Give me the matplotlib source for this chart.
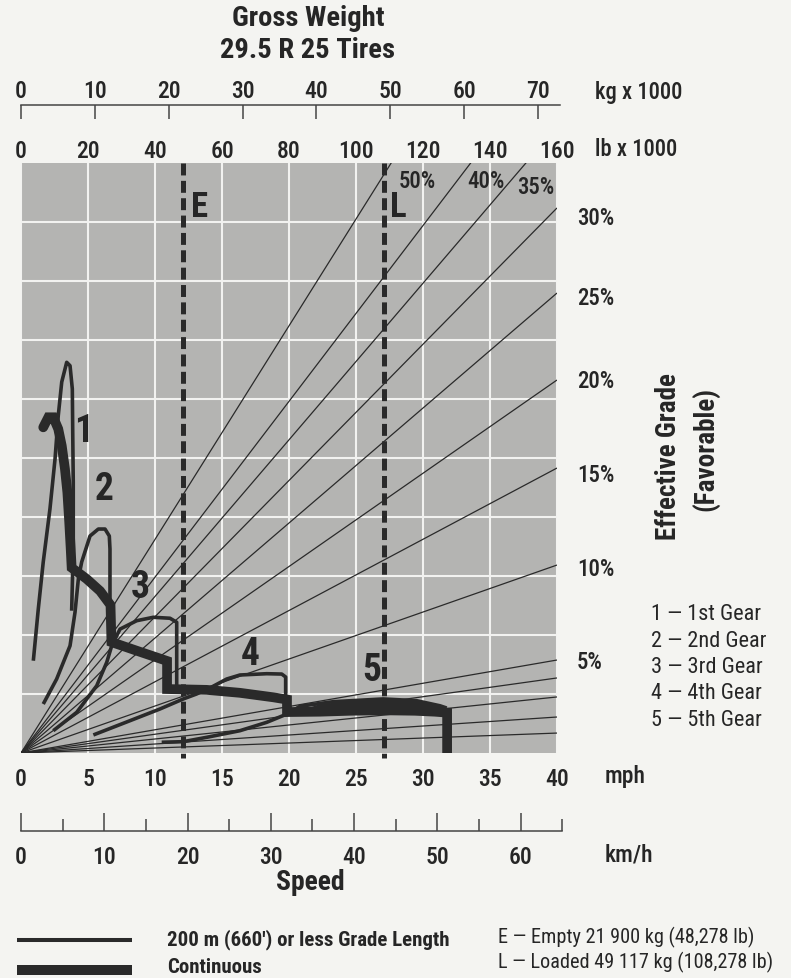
import matplotlib
matplotlib.use("Agg")
import matplotlib.pyplot as plt
from matplotlib import font_manager as fm
from matplotlib.lines import Line2D
import numpy as np

W, H = 791, 979

# ---------------- data ----------------
mph_ticks = [0, 5, 10, 15, 20, 25, 30, 35, 40]
kmh_major = [0, 10, 20, 30, 40, 50, 60]
kmh_minor = [5, 15, 25, 35, 45, 55, 65]
kg_ticks = [0, 10, 20, 30, 40, 50, 60, 70]
lb_ticks = [0, 20, 40, 60, 80, 100, 120, 140, 160]
force_grid = [5, 10, 15, 20, 25, 30, 35, 40, 45]

grade_names = ["1%", "2%", "3%", "4%", "5%", "10%", "15%", "20%", "25%", "30%", "35%", "40%", "50%"]
# force reached by each effective-grade line at 160 000 lb gross weight (chart units)
grade_force_160 = [1.69, 3.05, 4.75, 6.36, 7.88, 15.93, 24.15, 31.61, 38.98, 46.19, 53.08, 59.6, 72.4]

empty_lb = 48.278     # x 1000 lb
loaded_lb = 108.278   # x 1000 lb

# thin curves: 200 m (660') or less grade length  (speed mph, force)
g1_thin_mph = [0.92, 1.29, 1.66, 2.16, 2.54, 2.78, 3.04, 3.41, 3.66, 3.83, 3.86, 3.90, 3.90, 3.78]
g1_thin_f = [7.82, 12.2, 16.19, 20.68, 24.92, 28.58, 31.44, 33.11, 32.82, 30.85, 27.2, 22.97, 17.29, 12.06]
g2_thin_mph = [1.66, 2.66, 3.66, 4.03, 4.28, 4.53, 5.15, 5.77, 6.27, 6.59, 6.64, 6.64]
g2_thin_f = [4.15, 6.27, 9.09, 11.92, 14.75, 16.19, 18.39, 18.98, 18.98, 18.39, 17.29, 13.05]
g3_thin_mph = [2.41, 4.16, 5.65, 6.40, 6.77, 7.39, 8.63, 9.87, 11.12, 11.62, 11.62]
g3_thin_f = [1.89, 3.45, 5.70, 7.69, 9.09, 10.5, 11.21, 11.5, 11.42, 11.08, 5.0]
g4_thin_mph = [5.40, 7.89, 10.37, 12.11, 13.10, 14.23, 15.35, 16.34, 18.34, 19.46, 19.75, 19.75]
g4_thin_f = [1.53, 2.63, 3.73, 4.58, 5.0, 5.59, 6.27, 6.61, 6.72, 6.69, 6.44, 4.86]
g5_thin_mph = [10.5, 12.11, 13.86, 16.34, 18.34, 19.84, 20.82, 23.31, 27.04, 29.53, 31.27, 31.77]
g5_thin_f = [0.91, 0.96, 1.33, 1.89, 2.60, 3.30, 3.96, 4.35, 4.58, 4.43, 4.0, 3.81]

# thick curves: continuous grade length
g1_thick_mph = [1.66, 2.04, 2.41, 2.78, 3.04, 3.28, 3.46, 3.60, 3.71, 3.78]
g1_thick_f = [27.6, 28.45, 28.45, 27.46, 26.04, 24.07, 22.09, 19.55, 17.29, 15.7]
g2_thick_mph = [3.78, 4.90, 5.90, 6.68, 6.75]
g2_thick_f = [15.7, 14.75, 13.73, 12.54, 9.40]
g3_thick_mph = [6.75, 8.63, 10.9, 10.9]
g3_thick_f = [9.40, 8.67, 7.8, 5.42]
g4_thick_mph = [10.9, 13.86, 16.34, 18.83, 19.85, 19.85]
g4_thick_f = [5.42, 5.35, 5.10, 4.72, 4.53, 3.47]
g5_thick_mph = [19.85, 22.31, 24.55, 27.01, 29.4, 30.9, 31.8, 31.8]
g5_thick_f = [3.47, 3.50, 3.58, 3.62, 3.58, 3.50, 3.42, 0.0]

gear_labels = ["1", "2", "3", "4", "5"]
gear_names = ["1 \u2014 1st Gear", "2 \u2014 2nd Gear", "3 \u2014 3rd Gear", "4 \u2014 4th Gear", "5 \u2014 5th Gear"]

# ---------------- style ----------------
names = {f.name for f in fm.fontManager.ttflist}
FONT = "DejaVu Sans"
for cand in ["Liberation Sans Narrow", "Roboto Condensed", "Arial Narrow", "Liberation Sans"]:
    if cand in names:
        FONT = cand
        break
NARROW = FONT in ("Liberation Sans Narrow", "Roboto Condensed", "Arial Narrow")
S = 1.0 if NARROW else 0.84
plt.rcParams["font.family"] = [FONT, "DejaVu Sans"]
plt.rcParams["lines.scale_dashes"] = False

BG = "#f4f4f1"
GRAY = "#b4b4b2"
GRID = "#f2f2f0"
INK = "#2a2a2a"
TXT = "#262626"

TICK_FS = 17.0 * S
LAB_FS = 16.5 * S
MW = "medium"


def rect(l, t, r, b):
    return [l / W, 1 - b / H, (r - l) / W, (b - t) / H]


def ftext(px, py, s, **kw):
    kw.setdefault("color", TXT)
    return fig.text(px / W, 1 - py / H, s, **kw)


fig = plt.figure(figsize=(W / 100, H / 100), dpi=100)
fig.patch.set_facecolor(BG)

# weight axes (grade lines, E / L) -- lb x 1000 on x
axw = fig.add_axes(rect(21, 164, 557, 754))
axw.set_xlim(0, 160)
axw.set_ylim(0, 50)
axw.set_facecolor(GRAY)
axw.set_xticks(lb_ticks)
axw.set_yticks(force_grid)
axw.set_axisbelow(True)
axw.grid(True, color=GRID, lw=1.5)
axw.xaxis.tick_top()
axw.tick_params(axis="x", length=0, pad=1.0, labelsize=TICK_FS, labelcolor=TXT)
axw.tick_params(axis="y", length=0, left=False, labelleft=False)
for lab in axw.get_xticklabels():
    lab.set_fontweight(MW)
for s in axw.spines.values():
    s.set_visible(False)

for f in grade_force_160:
    axw.plot([0, 160], [0, f], color=INK, lw=0.9, solid_capstyle="butt")

for xw in (empty_lb, loaded_lb):
    axw.plot([xw, xw], [50, -0.4], color=INK, lw=3.6, dashes=(8.6, 3.9), clip_on=False,
             solid_capstyle="butt", dash_capstyle="butt")

# speed axes (gear curves) -- mph on x
ax = fig.add_axes(rect(21, 164, 557, 754))
ax.set_xlim(0, 40)
ax.set_ylim(0, 50)
ax.patch.set_visible(False)
ax.set_xticks(mph_ticks)
ax.set_yticks([])
ax.tick_params(axis="x", length=0, pad=10, labelsize=TICK_FS, labelcolor=TXT)
for lab in ax.get_xticklabels():
    lab.set_fontweight(MW)
for s in ax.spines.values():
    s.set_visible(False)

thin = dict(color=INK, lw=2.6, solid_capstyle="butt", solid_joinstyle="round")
for xm, yf in [(g1_thin_mph, g1_thin_f), (g2_thin_mph, g2_thin_f), (g3_thin_mph, g3_thin_f),
               (g4_thin_mph, g4_thin_f), (g5_thin_mph, g5_thin_f)]:
    ax.plot(xm, yf, **thin)

# gear 5: area between the short-grade and continuous curves
band_x = g5_thick_mph[:-1]
band_thin = np.interp(band_x, g5_thin_mph, g5_thin_f)
ax.fill_between(band_x, g5_thick_f[:-1], band_thin, color=INK, lw=0)

thick_x = g1_thick_mph + g2_thick_mph[1:] + g3_thick_mph[1:] + g4_thick_mph[1:] + g5_thick_mph[1:]
thick_y = g1_thick_f + g2_thick_f[1:] + g3_thick_f[1:] + g4_thick_f[1:] + g5_thick_f[1:]
ax.plot(thick_x, thick_y, color=INK, lw=7.0, solid_capstyle="round", solid_joinstyle="miter")

# gear numbers
gear_pos = [(4.70, 27.3), (6.23, 22.4), (8.88, 14.1), (17.09, 8.4), (26.17, 7.1)]
for lab, (xm, yf) in zip(gear_labels, gear_pos):
    ax.text(xm, yf, lab, fontsize=27 * S, fontweight="bold", color=TXT, ha="center", va="center")
ax.text(13.3, 46.3, "E", fontsize=25 * S, fontweight="bold", color=TXT, ha="center", va="center")
ax.text(28.15, 46.3, "L", fontsize=25 * S, fontweight="bold", color=TXT, ha="center", va="center")

# kg axis on top
axk = fig.add_axes(rect(21, 106, 21 + 539, 126))
axk.set_xlim(0, 73)
axk.set_ylim(0, 1)
axk.patch.set_visible(False)
axk.set_xticks(kg_ticks)
axk.set_yticks([])
axk.xaxis.tick_top()
axk.tick_params(axis="x", direction="in", length=10, width=1.1, color="#444444", pad=2.0,
                labelsize=TICK_FS, labelcolor=TXT)
for lab in axk.get_xticklabels():
    lab.set_fontweight(MW)
for k, s in axk.spines.items():
    s.set_visible(k == "top")
axk.spines["top"].set_color("#444444")
axk.spines["top"].set_linewidth(1.1)

# km/h axis below
axs = fig.add_axes(rect(21, 822, 21 + 541.3, 832))
axs.set_xlim(0, 65)
axs.set_ylim(0, 1)
axs.patch.set_visible(False)
axs.set_xticks(kmh_major)
axs.set_xticks(kmh_minor, minor=True)
axs.set_yticks([])
axs.tick_params(axis="x", which="major", direction="in", length=13, width=1.1, color="#444444",
                pad=10, labelsize=TICK_FS, labelcolor=TXT)
axs.tick_params(axis="x", which="minor", direction="in", length=8.5, width=1.1, color="#444444")
for lab in axs.get_xticklabels():
    lab.set_fontweight(MW)
for k, s in axs.spines.items():
    s.set_visible(k == "bottom")
axs.spines["bottom"].set_color("#444444")
axs.spines["bottom"].set_linewidth(1.1)

# titles & unit labels
ftext(308, 18, "Gross Weight", fontsize=20.5 * S, fontweight="bold", ha="center", va="center")
ftext(308, 50, "29.5 R 25 Tires", fontsize=20.5 * S, fontweight="bold", ha="center", va="center")
ftext(595, 92, "kg x 1000", fontsize=16.3 * S, fontweight=MW, ha="left", va="center")
ftext(595, 150, "lb x 1000", fontsize=16.3 * S, fontweight=MW, ha="left", va="center")
ftext(605, 777, "mph", fontsize=TICK_FS, fontweight=MW, ha="left", va="center")
ftext(605, 855, "km/h", fontsize=TICK_FS, fontweight=MW, ha="left", va="center")
ftext(310, 883, "Speed", fontsize=20 * S, fontweight="bold", ha="center", va="center")

# grade labels
right_grades = ["30%", "25%", "20%", "15%", "10%", "5%"]
right_y = [219, 299, 382, 476, 570, 663]
for g, py in zip(right_grades, right_y):
    ftext(577, py, g, fontsize=LAB_FS, fontweight=MW, ha="left", va="center")
top_grades = ["50%", "40%", "35%"]
top_xy = [(417, 181), (486, 181), (536, 188)]
for g, (px, py) in zip(top_grades, top_xy):
    ftext(px, py, g, fontsize=LAB_FS, fontweight=MW, ha="center", va="center")

ftext(668, 457, "Effective Grade", fontsize=19.5 * S, fontweight="bold", rotation=90,
      ha="center", va="center")
ftext(706, 449, "(Favorable)", fontsize=19.5 * S, fontweight="bold", rotation=90,
      ha="center", va="center")

for i, name in enumerate(gear_names):
    ftext(651, 615 + i * 26.3, name, fontsize=16.0 * S, ha="left", va="center")

# bottom legend
fig.add_artist(Line2D([17 / W, 132 / W], [1 - 940.7 / H] * 2, color=INK, lw=2.9,
                      solid_capstyle="butt"))
fig.add_artist(Line2D([17 / W, 132 / W], [1 - 970.5 / H] * 2, color=INK, lw=7.2,
                      solid_capstyle="butt"))
ftext(167, 940, "200 m (660\u2032) or less Grade Length", fontsize=15.0 * S, fontweight="bold",
      ha="left", va="center")
ftext(167, 968, "Continuous", fontsize=15.0 * S, fontweight="bold", ha="left", va="center")
ftext(498, 937, "E \u2014 Empty 21 900 kg (48,278 lb)", fontsize=14.6 * S, ha="left", va="center")
ftext(498, 962, "L \u2014 Loaded 49 117 kg (108,278 lb)", fontsize=14.6 * S, ha="left", va="center")

fig.savefig("out.png", dpi=100, facecolor=BG)
